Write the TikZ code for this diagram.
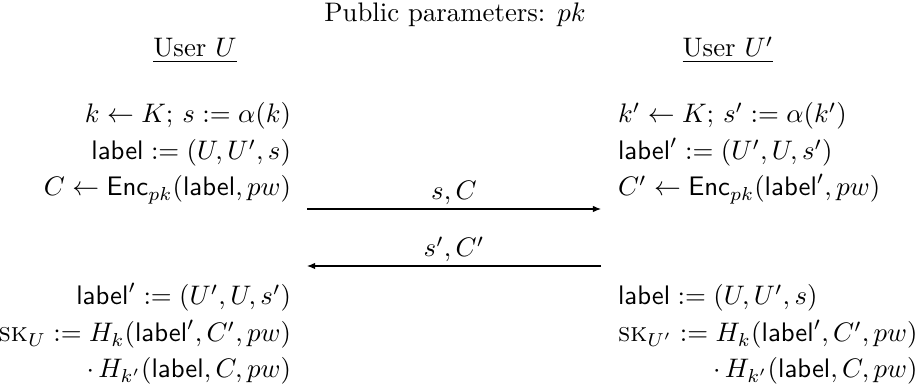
\documentclass[tikz,border=0pt]{standalone}
\usetikzlibrary{arrows.meta}
\begin{document}
\begin{tikzpicture}[x=0.3731pt,y=-0.3731pt,
  txt/.style={inner sep=0pt,outer sep=0pt},
  lcol/.style={txt,anchor=base east},
  rcol/.style={txt,anchor=base west},
  msg/.style={-{Latex[length=3pt,width=2.4pt]},line width=0.4pt},
  msglabel/.style={txt,anchor=base,yshift=3.4pt}]
\useasboundingbox (0,0) rectangle (924,391);
\node[txt,anchor=base] (pub) at (455,22) {Public parameters: $pk$};
\node[txt,anchor=base] (uL) at (195,57) {\underline{User $U$}};
\node[txt,anchor=base] (uR) at (728,57) {\underline{User $U'$}};
% left top
\node[lcol] (l1) at (291,123) {$k \leftarrow K$; $s := \alpha(k)$};
\node[lcol] (l2) at (291,160) {$\textsf{label} := (U,U',s)$};
\node[lcol] (l3) at (291,196) {$C \leftarrow \textsf{Enc}_{pk}(\textsf{label},pw)$};
% right top
\node[rcol] (r1) at (618,123) {$k' \leftarrow K$; $s' := \alpha(k')$};
\node[rcol] (r2) at (618,160) {$\textsf{label}' := (U',U,s')$};
\node[rcol] (r3) at (618,196) {$C' \leftarrow \textsf{Enc}_{pk}(\textsf{label}',pw)$};
% messages
\coordinate (m1a) at (307,209);
\coordinate (m1b) at (601,209);
\coordinate (m2a) at (601,266);
\coordinate (m2b) at (307,266);
\draw[msg] (m1a) -- node[msglabel] (m1l) {$s,C$} (m1b);
\draw[msg] (m2a) -- node[msglabel] (m2l) {$s',C'$} (m2b);
% left bottom
\node[lcol] (l4) at (291,305) {$\textsf{label}' := (U',U,s')$};
\node[lcol] (l5) at (291,342) {$\textsc{sk}_U := H_k(\textsf{label}',C',pw)$};
\node[lcol] (l6) at (291,378) {$\cdot\, H_{k'}(\textsf{label},C,pw)$};
% right bottom
\node[rcol] (r4) at (618,305) {$\textsf{label} := (U,U',s)$};
\node[rcol] (r5) at (618,342) {$\textsc{sk}_{U'} := H_k(\textsf{label}',C',pw)$};
\node[txt,anchor=base east] (r6) at (r5.east |- 0,378) {$\cdot\, H_{k'}(\textsf{label},C,pw)$};
\end{tikzpicture}
\end{document}
